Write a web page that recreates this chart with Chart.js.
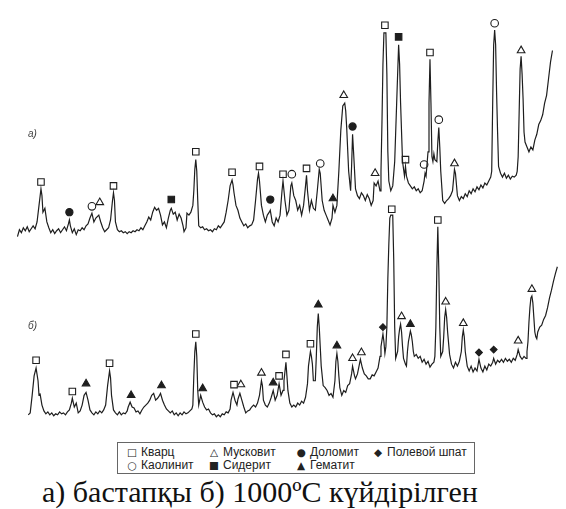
<!DOCTYPE html>
<html>
<head>
<meta charset="utf-8">
<script src="https://cdn.jsdelivr.net/npm/chart.js@4"></script>
<style>
  body { margin: 0; background: #fff; }
  #wrap { position: relative; width: 566px; height: 509px; font-family: "Liberation Sans", Arial, sans-serif; color: #222; }
  #xrd { position: absolute; left: 0; top: 0; }
  .tag { position: absolute; font-size: 10px; font-style: italic; color: #444; }
  #legend { position: absolute; left: 117px; top: 442px; width: 358px; height: 32px; border: 1px solid #666; box-sizing: border-box; }
  .item { position: absolute; font-size: 12px; line-height: 13px; white-space: nowrap; }
  .item span { display: inline-block; width: 12px; font-family: "DejaVu Sans", sans-serif; font-size: 10.5px; text-align: center; margin-right: 3px; }
  #caption { position: absolute; left: 42px; top: 477px; white-space: nowrap; font-family: "Liberation Serif", "Times New Roman", serif; font-size: 30px; line-height: 30px; color: #111; }
</style>
</head>
<body>
<div id="wrap">
  <canvas id="xrd" width="566" height="440"></canvas>
  <div class="tag" style="left:28px;top:128px">а)</div>
  <div class="tag" style="left:28px;top:320px">б)</div>
  <div id="legend"></div>
  <div id="caption">а) бастапқы б) 1000ºC күйдірілген</div>
</div>
<script>
// trace а) – initial sample, [step, counts a.u.]
const traceA = [
  [12,263],[14,270],[16,267],[18,272],[20,269],[22,273],[24,268],[26,271],[28,274],[30,271],
  [32,278],[34,295],[36,312],[37,305],[38,288],[40,292],[42,278],[44,272],[46,267],[48,270],
  [50,266],[52,269],[54,271],[56,267],[58,270],[60,273],[62,269],[64,276],[65,280],[66,274],
  [68,267],[70,271],[72,265],[74,270],[76,269],[78,272],[80,270],[82,274],[84,276],[86,282],
  [88,287],[90,278],[92,282],[95,285],[97,278],[99,272],[101,268],[103,270],[105,272],[107,280],
  [109,300],[110,308],[111,300],[112,278],[114,270],[116,268],[118,269],[120,267],[122,268],[124,266],
  [126,268],[128,267],[130,269],[132,268],[134,270],[136,269],[138,272],[140,270],[142,274],[144,278],
  [146,283],[148,280],[150,288],[152,293],[154,290],[156,292],[158,285],[160,275],[162,278],[164,272],
  [166,282],[168,290],[169,292],[171,286],[173,288],[175,280],[177,286],[179,282],[181,274],[182,268],
  [184,272],[185,287],[187,285],[189,288],[191,295],[192,310],[193,332],[194,342],[195,330],[196,300],
  [197,274],[199,272],[201,273],[203,270],[205,271],[207,269],[209,270],[211,268],[213,271],[215,270],
  [217,274],[219,272],[221,275],[223,278],[225,288],[227,300],[229,315],[231,321],[232,316],[233,308],
  [235,295],[237,290],[239,282],[241,278],[243,274],[245,276],[247,272],[249,274],[251,275],[253,280],
  [255,300],[257,322],[258,328],[259,320],[261,295],[263,285],[265,278],[267,285],[269,288],[270,290],
  [272,278],[274,274],[276,282],[278,278],[280,285],[282,310],[283,320],[285,300],[287,285],[289,290],
  [291,315],[292,318],[294,305],[296,300],[298,290],[300,295],[302,285],[304,295],[306,315],[307,326],
  [308,310],[310,290],[312,300],[314,292],[316,290],[318,310],[320,332],[321,328],[323,300],[325,290],
  [327,285],[329,280],[331,275],[333,282],[334,295],[336,288],[338,295],[340,330],[342,372],[344,397],
  [346,400],[347,392],[348,375],[350,330],[352,310],[353,335],[354,368],[355,350],[357,312],[359,305],
  [361,302],[363,308],[365,305],[367,300],[369,306],[371,302],[373,295],[375,300],[376,318],[378,315],
  [380,320],[382,310],[383,330],[384,380],[385,440],[386,472],[388,472],[389,430],[390,350],[391,320],
  [393,310],[395,315],[397,340],[399,400],[401,460],[402,440],[403,400],[405,340],[407,325],[408,335],
  [409,325],[411,318],[413,315],[415,312],[417,314],[419,310],[421,312],[423,308],[425,310],[427,320],
  [428,328],[429,325],[431,350],[432,400],[433,445],[434,400],[435,345],[436,340],[437,348],[438,342],
  [440,340],[441,360],[442,375],[443,355],[444,330],[446,300],[448,297],[450,300],[452,302],[454,305],
  [456,310],[458,332],[459,328],[461,305],[463,300],[465,304],[467,302],[469,307],[471,304],[473,310],
  [475,307],[477,312],[479,309],[481,314],[483,311],[485,316],[487,313],[489,318],[491,316],[493,320],
  [495,324],[496,330],[497,400],[498,460],[499,475],[500,460],[501,410],[502,370],[503,335],[505,328],
  [507,324],[509,328],[511,323],[513,326],[515,322],[517,325],[519,324],[521,326],[522,330],[523,345],
  [524,390],[525,435],[526,448],[527,430],[528,405],[529,370],[530,360],[532,355],[534,350],[536,355],
  [538,352],[540,362],[542,368],[544,378],[546,382],[548,388],[550,400],[552,408],[554,425],[556,442],
  [558,454]
];

// trace б) – fired at 1000 ºC
const traceB = [
  [23,80],[25,82],[27,100],[29,120],[31,128],[33,115],[34,100],[35,102],[37,90],[39,84],
  [41,81],[43,83],[45,80],[47,82],[49,79],[51,81],[53,80],[55,83],[57,81],[59,82],
  [61,80],[63,83],[65,85],[67,92],[68,97],[70,88],[72,92],[74,82],[76,84],[78,90],
  [80,100],[82,103],[84,95],[86,85],[88,82],[90,80],[92,83],[94,81],[96,84],[98,82],
  [100,85],[102,90],[104,110],[106,125],[107,118],[108,100],[110,85],[112,82],[114,80],[116,83],
  [118,80],[120,82],[122,81],[124,84],[125,88],[127,93],[129,88],[131,87],[133,83],[135,84],
  [137,81],[139,85],[141,88],[143,90],[145,92],[147,95],[149,100],[151,102],[153,95],[155,97],
  [157,100],[158,102],[160,95],[162,90],[164,86],[166,84],[168,82],[170,84],[172,80],[174,82],
  [176,79],[178,82],[180,80],[182,83],[184,81],[186,82],[188,84],[190,86],[191,90],[192,120],
  [193,145],[194,155],[195,140],[196,105],[197,90],[199,100],[201,93],[203,88],[205,85],[207,86],
  [209,82],[211,80],[213,81],[215,78],[217,80],[219,78],[221,81],[223,80],[225,83],[227,82],
  [229,86],[230,95],[232,103],[234,95],[236,90],[237,96],[239,102],[241,95],[243,88],[245,82],
  [247,84],[249,85],[251,88],[253,90],[255,88],[257,92],[259,100],[261,115],[262,110],[263,95],
  [265,90],[267,88],[269,92],[271,98],[273,105],[275,95],[277,100],[279,112],[281,100],[283,105],
  [284,115],[286,134],[287,120],[288,105],[290,92],[292,88],[294,90],[296,88],[298,92],[300,90],
  [302,94],[304,92],[306,98],[308,112],[309,130],[311,145],[312,140],[313,132],[314,115],[316,115],
  [317,140],[318,170],[319,184],[320,170],[321,150],[322,130],[324,110],[326,108],[328,105],[330,100],
  [332,102],[334,98],[336,115],[337,135],[338,143],[339,135],[340,120],[341,108],[343,100],[345,105],
  [347,103],[349,110],[351,112],[353,122],[354,130],[356,120],[357,117],[359,122],[361,132],[362,137],
  [364,128],[366,122],[368,120],[370,117],[372,117],[374,121],[376,120],[378,124],[380,128],[382,140],
  [383,150],[385,163],[386,155],[387,143],[388,150],[389,170],[390,220],[391,255],[392,282],[393,285],
  [395,285],[396,240],[397,170],[398,138],[400,145],[401,160],[402,168],[403,173],[404,165],[405,150],
  [406,138],[408,132],[409,130],[410,145],[411,155],[413,166],[414,162],[415,155],[416,145],[417,140],
  [419,142],[421,138],[423,140],[425,134],[427,137],[429,132],[431,135],[433,129],[435,132],[437,134],
  [438,140],[439,170],[440,230],[441,273],[442,230],[443,170],[444,140],[446,145],[447,160],[448,180],
  [449,188],[450,180],[451,165],[453,142],[455,132],[457,128],[459,134],[461,130],[463,135],[465,145],
  [466,160],[467,167],[468,160],[469,145],[471,130],[473,125],[475,130],[477,124],[479,128],[481,125],
  [483,137],[485,128],[487,124],[489,130],[491,126],[493,132],[495,130],[497,134],[498,138],[500,132],
  [502,136],[504,134],[506,137],[508,134],[510,138],[512,135],[514,137],[516,134],[518,138],[520,136],
  [522,142],[523,147],[525,140],[527,137],[529,140],[531,138],[532,145],[533,155],[534,175],[535,190],
  [536,200],[537,202],[538,195],[539,180],[540,165],[541,160],[542,158],[543,165],[545,170],[547,172],
  [549,178],[551,182],[553,190],[555,200],[557,208],[559,217],[561,225],[563,232]
];

// phase marks above the peaks, [step, counts]
const quartz = [[36,319],[110,315],[194,350],[231,329],[259,335],[283,327],[307,333],[387,480],[408,342],[433,452],
  [31,136],[68,104],[106,133],[194,163],[233,111],[279,120],[286,142],[311,153],[394,291],[441,280]];
const muscovite = [[96,298],[345,408],[377,328],[458,338],[526,454],
  [240,111],[261,123],[354,138],[363,144],[404,181],[449,196],[467,174],[523,156],[537,209]];
const dolomite = [[65,288],[270,301],[354,376]];
const feldspar = [[385,170],[483,144],[498,147]];
const kaolinite = [[88,294],[292,327],[321,338],[427,337],[442,383],[499,482]];
const siderite = [[169,301],[401,468]];
const hematite = [[334,302],[82,112],[128,100],[159,110],[201,107],[273,113],[319,193],[338,151],[413,173]];

const legendRows = [
  { name: "Кварц", glyph: "□", left: 8, top: 3 },
  { name: "Мусковит", glyph: "△", left: 90, top: 3 },
  { name: "Доломит", glyph: "●", left: 177, top: 3 },
  { name: "Полевой шпат", glyph: "◆", left: 254, top: 3 },
  { name: "Каолинит", glyph: "○", left: 8, top: 16 },
  { name: "Сидерит", glyph: "■", left: 90, top: 16 },
  { name: "Гематит", glyph: "▲", left: 177, top: 16 }
];

const toPts = (arr) => arr.map(([x, y]) => ({ x, y }));
const INK = "#1e1e1e";

function trace(label, arr) {
  return {
    label,
    data: toPts(arr),
    showLine: true,
    borderColor: INK,
    borderWidth: 1.2,
    pointRadius: 0,
    tension: 0,
  };
}

function marks(label, arr, style, filled, radius) {
  return {
    label,
    data: toPts(arr),
    showLine: false,
    pointStyle: style,
    pointRadius: radius,
    pointBorderColor: INK,
    pointBorderWidth: 1.1,
    pointBackgroundColor: filled ? INK : "#fff",
  };
}

new Chart(document.getElementById("xrd"), {
  type: "scatter",
  data: {
    datasets: [
      trace("а)", traceA),
      trace("б)", traceB),
      marks("Кварц", quartz, "rect", false, 4.6),
      marks("Мусковит", muscovite, "triangle", false, 4.4),
      marks("Доломит", dolomite, "circle", true, 3.6),
      marks("Полевой шпат", feldspar, "rectRot", true, 3.4),
      marks("Каолинит", kaolinite, "circle", false, 3.8),
      marks("Сидерит", siderite, "rect", true, 4.6),
      marks("Гематит", hematite, "triangle", true, 4.4),
    ],
  },
  options: {
    responsive: false,
    animation: false,
    devicePixelRatio: 1,
    layout: { padding: 0 },
    plugins: { legend: { display: false }, tooltip: { enabled: false } },
    scales: {
      x: { type: "linear", min: 0, max: 566, display: false },
      y: { min: 60, max: 500, display: false },
    },
  },
});

// legend box below the plot
const legend = document.getElementById("legend");
legendRows.forEach(({ name, glyph, left, top }) => {
  const el = document.createElement("div");
  el.className = "item";
  el.style.left = left + "px";
  el.style.top = top + "px";
  el.innerHTML = `<span>${glyph}</span>${name}`;
  legend.appendChild(el);
});
</script>
</body>
</html>
